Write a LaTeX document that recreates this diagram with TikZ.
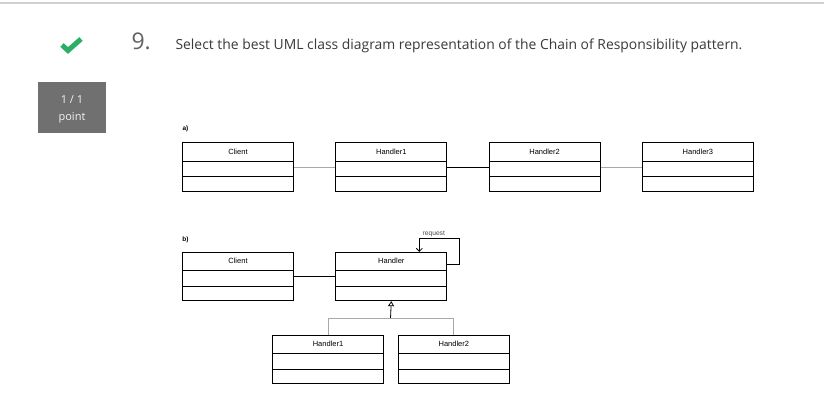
\documentclass[tikz,border=0pt]{standalone}
\usepackage{fontspec}
\setmainfont{Open Sans}
\newfontfamily\umlfont{Liberation Sans}
\usetikzlibrary{positioning,arrows.meta}
\definecolor{checkgreen}{HTML}{2BAE66}
\definecolor{pointgray}{HTML}{707070}
\definecolor{textgray}{HTML}{3A3A3A}
\definecolor{linegray}{HTML}{A8A8A8}
\tikzset{
  umlclass/.style={draw,line width=0.8pt,minimum width=111pt,minimum height=48.5pt,inner sep=0pt,
    path picture={\draw[line width=0.8pt]
      ([yshift=-18.5pt]path picture bounding box.north west) -- ([yshift=-18.5pt]path picture bounding box.north east)
      ([yshift=-34pt]path picture bounding box.north west) -- ([yshift=-34pt]path picture bounding box.north east);},
    label={[font=\umlfont\fontsize{7.5}{8}\selectfont,text=black,anchor=center,yshift=-9.3pt]north:#1}},
  assoc/.style={line width=0.8pt},
  tag/.style={font=\umlfont\bfseries\fontsize{6.5}{7}\selectfont}
}
\begin{document}
\begin{tikzpicture}[x=1pt,y=-1pt]
  \useasboundingbox[fill=white] (0,0) rectangle (824,403);
  \draw[line width=1.5pt,black!18] (0,3) -- (824,3);
  % header of the question
  \draw[checkgreen,line width=5pt] (62,45) -- (68,50.5) -- (81,39);
  \node[anchor=base west,font=\fontsize{23}{28}\selectfont,text=textgray!80] (num) at (128,50) {9.};
  \node[anchor=base west,font=\fontsize{13.9}{16}\selectfont,text=textgray] (question) at (172,50)
    {Select the best UML class diagram representation of the Chain of Responsibility pattern.};
  \fill[pointgray] (38,82) rectangle (106,133);
  \node[font=\fontsize{11}{13}\selectfont,text=white!90!gray] (score) at (72,100) {1 / 1};
  \node[font=\fontsize{11}{13}\selectfont,text=white!90!gray] (point) at (72,117.5) {point};
  % a)
  \node[tag] (taga) at (185.5,129) {a)};
  \node[umlclass=Client] (ca) at (238,167) {};
  \node[umlclass=Handler1,right=41.5pt of ca] (h1a) {};
  \node[umlclass=Handler2,right=41.5pt of h1a] (h2a) {};
  \node[umlclass=Handler3,right=41.5pt of h2a] (h3a) {};
  \draw[assoc,linegray] (ca) -- (h1a);
  \draw[assoc] (h1a) -- (h2a);
  \draw[assoc,linegray] (h2a) -- (h3a);
  % b)
  \node[tag] (tagb) at (185.5,240) {b)};
  \node[umlclass=Client] (cb) at (238,276.5) {};
  \node[umlclass=Handler,right=41.5pt of cb] (hb) {};
  \node[umlclass=Handler1] (h1b) at (328,359.5) {};
  \node[umlclass=Handler2,right=14pt of h1b] (h2b) {};
  \draw[assoc] (cb) -- (hb);
  \coordinate (loop) at (459.5,238.5);
  \draw[assoc,-{Straight Barb[length=3pt,width=6pt]}] ([yshift=12pt]hb.east) -| (loop)
    -| node[pos=0.32,above=1pt,inner sep=0pt,font=\umlfont\fontsize{6.7}{7}\selectfont,text=black!70] {request}
    ([xshift=28pt]hb.north);
  \coordinate (split) at (390.5,318.5);
  \draw[assoc,{Triangle[open,length=5pt,width=6pt]}-] (hb.south) -- (split);
  \draw[assoc,linegray] (h1b.north) |- (split) -| (h2b.north);
\end{tikzpicture}
\end{document}
